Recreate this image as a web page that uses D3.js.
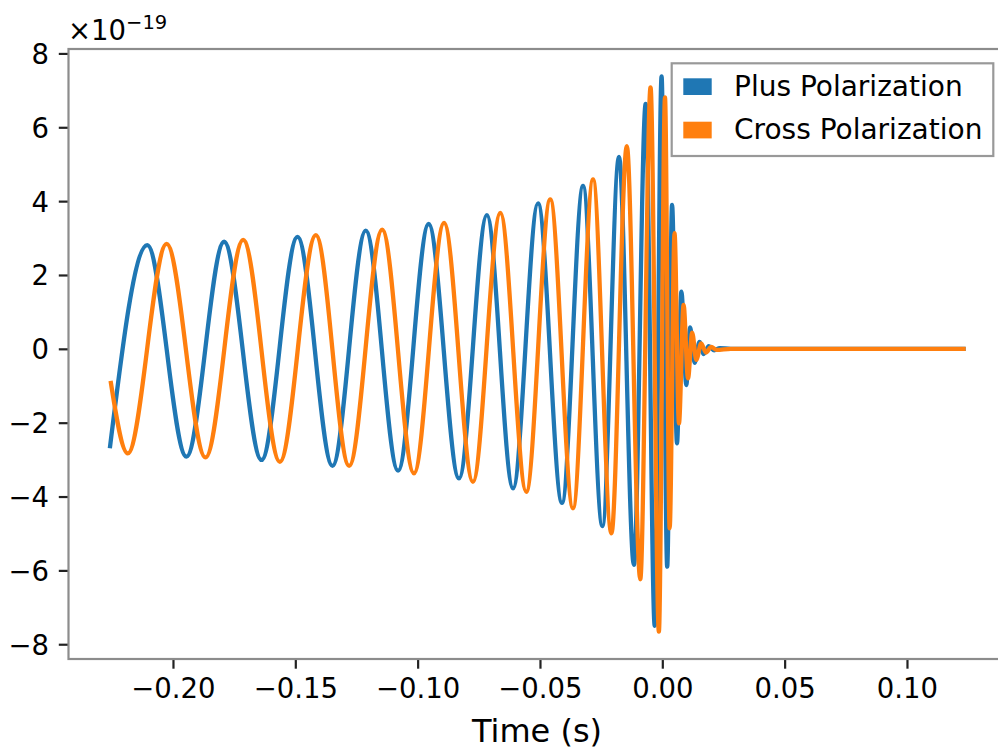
<!DOCTYPE html>
<html>
<head>
<meta charset="utf-8">
<script src="https://cdn.jsdelivr.net/npm/d3@7"></script>
<style>
  html, body { margin: 0; padding: 0; background: #fff; }
  svg { display: block; }
  text { font-family: "DejaVu Sans", sans-serif; fill: #000; }
</style>
</head>
<body>
<svg id="chart" width="998" height="751"></svg>
<script>
// ---- Data (strain in units of 1e-19) ----
const plusTime = [-0.2258, -0.2105, -0.1945, -0.1791, -0.1638, -0.1491, -0.1348, -0.1212, -0.1080, -0.0955,
  -0.0831, -0.0717, -0.0610, -0.0508, -0.0410, -0.0324, -0.0245, -0.0177, -0.0116, -0.0068,
  -0.0031, -0.0003, 0.0020, 0.0040, 0.0060, 0.0078, 0.0098, 0.0114, 0.0132, 0.0152,
  0.0169, 0.0190, 0.0212, 0.0235, 0.0280, 0.1240];
const plusStrain = [-2.69, 2.81, -2.92, 2.90, -3.01, 3.03, -3.17, 3.20, -3.30, 3.38,
  -3.51, 3.62, -3.78, 3.94, -4.17, 4.41, -4.80, 5.20, -5.85, 6.63,
  -7.50, 7.38, -5.90, 3.90, -2.56, 1.55, -0.98, 0.58, -0.38, 0.19,
  -0.14, 0.07, -0.04, 0.02, 0.00, 0.00];

const crossTime = [-0.2255, -0.2185, -0.2026, -0.1867, -0.1713, -0.1563, -0.1416, -0.1280, -0.1145, -0.1015,
  -0.0892, -0.0774, -0.0662, -0.0556, -0.0458, -0.0365, -0.0283, -0.0208, -0.0145, -0.0090,
  -0.0048, -0.0014, 0.0011, 0.0030, 0.0050, 0.0068, 0.0087, 0.0105, 0.0122, 0.0139,
  0.0159, 0.0178, 0.0200, 0.0222, 0.0280, 0.1240];
const crossStrain = [-0.87, -2.83, 2.84, -2.94, 2.95, -3.06, 3.08, -3.17, 3.23, -3.37,
  3.41, -3.60, 3.68, -3.87, 4.05, -4.32, 4.59, -5.00, 5.49, -6.24,
  7.08, -7.66, 6.81, -4.86, 3.13, -2.02, 1.19, -0.80, 0.44, -0.30,
  0.15, -0.10, 0.05, -0.03, 0.00, 0.00];

const seriesNames = ["Plus Polarization", "Cross Polarization"];
const seriesColors = ["#1f77b4", "#ff7f0e"];
const xTicks = [-0.20, -0.15, -0.10, -0.05, 0.00, 0.05, 0.10];
const yTicks = [-8, -6, -4, -2, 0, 2, 4, 6, 8];
const xLabel = "Time (s)";
const yExponent = "−19";

// ---- Layout ----
const svg = d3.select("#chart");
const L = 68.5, R = 1009, T = 49, B = 659;
const x = d3.scaleLinear().domain([-0.2427, 0.1417]).range([L, R]);
const y = d3.scaleLinear().domain([-8.4, 8.12]).range([B, T]);
const fmtMinus = s => s.replace("-", "−");

// lines
const line = d3.line().x(d => x(d[0])).y(d => y(d[1])).curve(d3.curveMonotoneX);
const plusData = plusTime.map((t, i) => [t, plusStrain[i]]);
const crossData = crossTime.map((t, i) => [t, crossStrain[i]]);
[plusData, crossData].forEach((data, i) => {
  svg.append("path").datum(data)
    .attr("d", line)
    .attr("fill", "none")
    .attr("stroke", seriesColors[i])
    .attr("stroke-width", 4.3)
    .attr("stroke-linejoin", "round");
});

// axes
const tickLen = 9.7, tickPad = 9.7, fs = 27.5;
const xAxis = d3.axisBottom(x).tickValues(xTicks).tickSize(tickLen).tickPadding(tickPad)
  .tickFormat(d => fmtMinus(d3.format(".2f")(d)));
const yAxis = d3.axisLeft(y).tickValues(yTicks).tickSize(tickLen).tickPadding(tickPad)
  .tickFormat(d => fmtMinus(d3.format("d")(d)));

const gx = svg.append("g").attr("transform", `translate(0,${B})`).call(xAxis);
const gy = svg.append("g").attr("transform", `translate(${L},0)`).call(yAxis);
[gx, gy].forEach(g => {
  g.select(".domain").remove();
  g.selectAll(".tick line").attr("stroke", "#222").attr("stroke-width", 2.2);
  g.selectAll(".tick text").style("font-size", fs + "px").attr("fill", "#000");
});
gx.selectAll(".tick text").attr("dy", "0.72em");
gy.selectAll(".tick text").attr("dy", "0.36em");

// spines
svg.append("rect").attr("x", L).attr("y", T).attr("width", R - L).attr("height", B - T)
  .attr("fill", "none").attr("stroke", "#8c8c8c").attr("stroke-width", 2.2);

// x label
svg.append("text").attr("x", 537).attr("y", 742)
  .attr("text-anchor", "middle").style("font-size", "32px").text(xLabel);

// offset text
const off = svg.append("text").attr("x", 68).attr("y", 40).style("font-size", fs + "px");
off.append("tspan").text("×10");
off.append("tspan").attr("dy", -11).style("font-size", "19.5px").text(yExponent);

// legend
const lg = svg.append("g");
lg.append("rect").attr("x", 671.7).attr("y", 63.3).attr("width", 321.6).attr("height", 92.7)
  .attr("fill", "#fff").attr("stroke", "#999").attr("stroke-width", 2.2);
seriesNames.forEach((name, i) => {
  const yy = 78.3 + i * 43.4;
  lg.append("rect").attr("x", 683.3).attr("y", yy).attr("width", 28.4).attr("height", 16.7)
    .attr("fill", seriesColors[i]);
  lg.append("text").attr("x", 734).attr("y", 95.5 + i * 43.4).style("font-size", "28px").text(name);
});
</script>
</body>
</html>
